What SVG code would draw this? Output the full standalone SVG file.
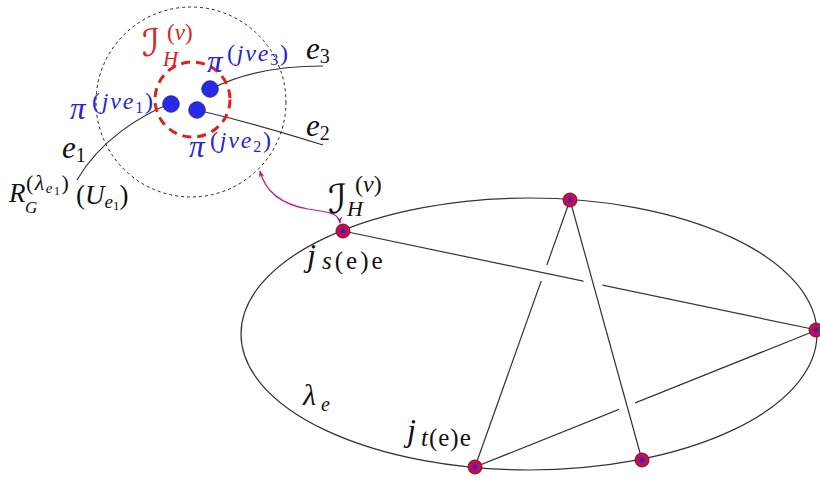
<svg xmlns="http://www.w3.org/2000/svg" width="820" height="485" viewBox="0 0 820 485">
<style>
.ln{fill:none;stroke:#333;stroke-width:1.2}
.gap{fill:none;stroke:#fff;stroke-width:17}
.m{font-family:"Liberation Serif","DejaVu Serif",serif;font-style:italic;fill:#111}
.u{font-style:normal}
.cal{font-family:"DejaVu Serif","DejaVu Sans",serif;font-style:normal}
.red{fill:#e0201c}
.blue{fill:#2424d8}
.sup{letter-spacing:1.8px}
.dot{fill:#2a2ae6;stroke:#1a1a90;stroke-width:0.8}
.nd{fill:url(#ng);stroke:#7a1030;stroke-width:1}
</style>
<defs>
<radialGradient id="ng" cx="0.5" cy="0.5" r="0.5">
<stop offset="0" stop-color="#2a14c8"/>
<stop offset="0.3" stop-color="#7a1498"/>
<stop offset="0.65" stop-color="#c8104c"/>
<stop offset="1" stop-color="#b81040"/>
</radialGradient>
<marker id="ah" viewBox="0 0 10 10" refX="9" refY="5" markerWidth="7" markerHeight="7" orient="auto-start-reverse" markerUnits="userSpaceOnUse">
<path d="M0,1 L10,5 L0,9 L3,5 Z" fill="#c0189c"/>
</marker>
</defs>

<g id="connectors">
<ellipse class="ln" cx="529" cy="334" rx="288" ry="136"/>
<line class="ln" x1="570" y1="200" x2="475" y2="467"/>
<line class="gap" x1="536" y1="271.3" x2="552" y2="274.7"/>
<line class="ln" x1="343" y1="231" x2="817" y2="330"/>
<line class="ln" x1="475" y1="467" x2="817" y2="330"/>
<line class="gap" x1="590.8" y1="275.2" x2="595.2" y2="291.2"/>
<line class="gap" x1="625" y1="398.3" x2="629.2" y2="413.8"/>
<line class="ln" x1="570" y1="200" x2="642" y2="460"/>
<path class="ln" d="M211,89 C240,74 280,66 323,66"/>
<path class="ln" d="M197,110 C240,120 285,133 323,145"/>
<path class="ln" d="M171,103 C140,116 100,140 77,180"/>
<path d="M260,171 C266,195 285,205 308,209 C328,212 339,213 340,223" fill="none" stroke="#c0189c" stroke-width="1.2" marker-start="url(#ah)" marker-end="url(#ah)"/>
</g>

<g id="neighborhood">
<circle cx="191" cy="102" r="95" fill="none" stroke="#222" stroke-width="1" stroke-dasharray="3,3"/>
<circle cx="192.5" cy="99.5" r="37.5" fill="none" stroke="#e0201c" stroke-width="3" stroke-dasharray="9,6"/>
<circle class="dot" cx="171" cy="104" r="8.3"/>
<circle class="dot" cx="197" cy="110" r="8.3"/>
<circle class="dot" cx="210" cy="89" r="8.3"/>
</g>

<g id="node-s"><circle class="nd" cx="343" cy="231" r="7"/></g>
<g id="node-top"><circle class="nd" cx="570" cy="200" r="7"/></g>
<g id="node-right"><circle class="nd" cx="816" cy="330" r="7"/></g>
<g id="node-t"><circle class="nd" cx="475" cy="467" r="7"/></g>
<g id="node-bottom"><circle class="nd" cx="642" cy="460" r="7"/></g>

<g id="labels">
<!-- small I_H^(v) -->
<text class="m red cal" x="142" y="56" font-size="38">ℐ</text>
<text class="m red" x="163" y="66" font-size="21">H</text>
<text class="m red" x="167" y="40" font-size="23"><tspan class="u">(</tspan>v<tspan class="u">)</tspan></text>

<!-- pi labels -->
<text class="m blue" x="70" y="119" font-size="31">π</text>
<text class="m blue sup" x="92" y="109" font-size="24"><tspan class="u">(</tspan>jve<tspan font-size="16" dy="4" class="u">1</tspan><tspan class="u" dy="-4">)</tspan></text>
<text class="m blue" x="207" y="72" font-size="31">π</text>
<text class="m blue sup" x="227" y="61" font-size="24"><tspan class="u">(</tspan>jve<tspan font-size="16" dy="4" class="u">3</tspan><tspan class="u" dy="-4">)</tspan></text>
<text class="m blue" x="189" y="157" font-size="31">π</text>
<text class="m blue sup" x="210" y="148" font-size="24"><tspan class="u">(</tspan>jve<tspan font-size="16" dy="4" class="u">2</tspan><tspan class="u" dy="-4">)</tspan></text>

<!-- edge labels -->
<text class="m" x="306" y="59" font-size="31">e<tspan class="u" font-size="20" dy="4">3</tspan></text>
<text class="m" x="306" y="136" font-size="31">e<tspan class="u" font-size="20" dy="4">2</tspan></text>
<text class="m" x="62" y="158" font-size="31">e<tspan class="u" font-size="20" dy="4">1</tspan></text>

<!-- R label -->
<text class="m" x="9" y="202" font-size="27">R</text>
<text class="m" x="25" y="213" font-size="17">G</text>
<text class="m" x="26" y="190" font-size="22" letter-spacing="1.5"><tspan class="u">(</tspan>λ<tspan font-size="15" dy="3">e</tspan><tspan class="u" font-size="12" dy="2">1</tspan><tspan class="u" dy="-5">)</tspan></text>
<text class="m" x="76" y="204" font-size="27"><tspan class="u">(</tspan>U<tspan font-size="19" dy="4">e</tspan><tspan class="u" font-size="13" dy="2">1</tspan><tspan class="u" dy="-6">)</tspan></text>

<!-- big I_H^(v) -->
<text class="m cal" x="328" y="213" font-size="40">ℐ</text>
<text class="m" x="347" y="216" font-size="22">H</text>
<text class="m" x="355" y="192" font-size="24"><tspan class="u">(</tspan>v<tspan class="u">)</tspan></text>

<!-- j labels -->
<text class="m" x="307" y="266" font-size="32">j</text>
<text class="m" x="322" y="269" font-size="25" letter-spacing="3">s<tspan class="u">(e)e</tspan></text>
<text class="m" x="303" y="405" font-size="30">λ</text>
<text class="m" x="321" y="411" font-size="20">e</text>
<text class="m" x="407" y="441" font-size="32">j</text>
<text class="m" x="421" y="446" font-size="25" letter-spacing="1">t<tspan class="u">(e)e</tspan></text>
</g>
</svg>
